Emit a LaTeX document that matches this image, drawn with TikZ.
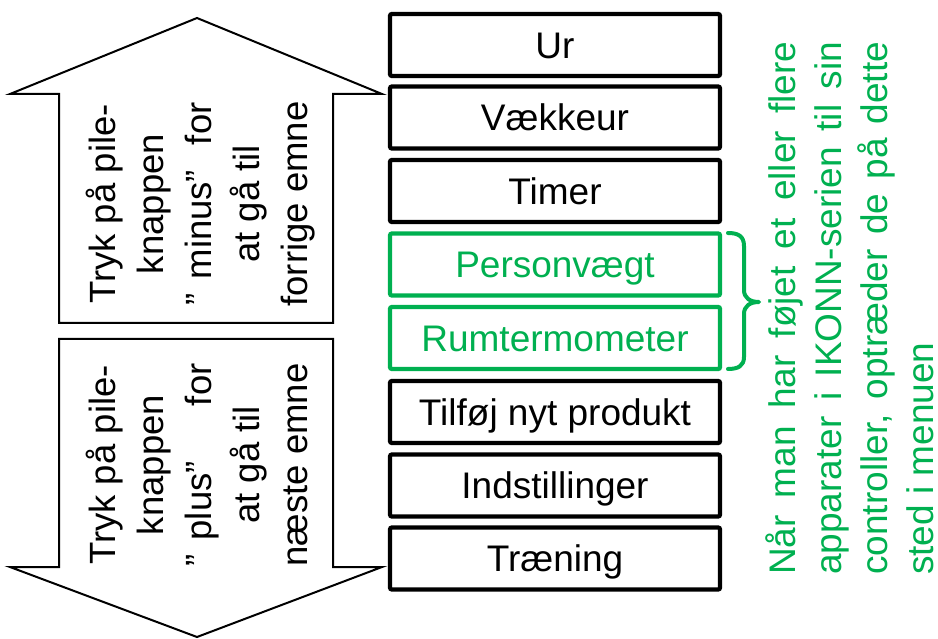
\documentclass[tikz,border=0pt]{standalone}
\usepackage{fontspec}
\setmainfont{Liberation Sans}
\definecolor{pgreen}{RGB}{0,176,80}
\begin{document}
\begin{tikzpicture}[x=1pt,y=-1pt,
  menubox/.style={draw=black, line width=4.3pt, rounded corners=2pt, minimum width=330pt, minimum height=62pt, inner sep=0pt, text height=26.5pt, text depth=0pt, font=\fontsize{37}{44}\selectfont, fill=white},
  greenbox/.style={menubox, draw=pgreen, text=pgreen},
  arrowshape/.style={draw=black, line width=2pt, fill=white, line join=miter},
  sidetext/.style={rotate=90, anchor=base, inner sep=0pt, font=\fontsize{36.5}{44}\selectfont},
  notetext/.style={rotate=90, anchor=base west, inner sep=0pt, text=pgreen, font=\fontsize{37}{44}\selectfont},
  bracestyle/.style={draw=pgreen, line width=4pt, line cap=round, line join=round}]
\useasboundingbox (0,0) rectangle (938,639);
% arrows
\draw[arrowshape] (197,18) -- (382,94) -- (333,94) -- (333,323) -- (59,323) -- (59,94) -- (10,94) -- cycle;
\draw[arrowshape] (59,339) -- (333,339) -- (333,567) -- (382,567) -- (197,637) -- (10,567) -- (59,567) -- cycle;
% up arrow text
\node[sidetext] (u1) at (115,204) {Tryk på pile-};
\node[sidetext] (u2) at (163,204) {knappen};
\node[sidetext] (u3) at (211,204) {\makebox[203pt]{”\hspace{14pt}minus”\hfill for}};
\node[sidetext] (u4) at (259,204) {at gå til};
\node[sidetext] (u5) at (307,204) {forrige emne};
% down arrow text
\node[sidetext] (d1) at (115,465) {Tryk på pile-};
\node[sidetext] (d2) at (163,465) {knappen};
\node[sidetext] (d3) at (211,465) {\makebox[203pt]{”\hspace{14pt}plus”\hfill for}};
\node[sidetext] (d4) at (259,465) {at gå til};
\node[sidetext] (d5) at (307,465) {næste emne};
% menu
\node[menubox] (ur) at (555,45) {Ur};
\node[menubox] (vaek) at (555,117.5) {Vækkeur};
\node[menubox] (timer) at (555,191) {Timer};
\node[greenbox] (pers) at (555,264.5) {Personvægt};
\node[greenbox] (rum) at (555,338) {Rumtermometer};
\node[menubox] (tilf) at (555,412) {Tilføj nyt produkt};
\node[menubox] (indst) at (555,485.5) {Indstillinger};
\node[menubox] (traen) at (555,558.5) {Træning};
% brace
\draw[bracestyle] (728,233) .. controls (738,233) and (744,236) .. (744,246) -- (744,290) .. controls (744,298) and (750,302) .. (759,302) .. controls (750,302) and (744,306) .. (744,314) -- (744,357) .. controls (744,366) and (738,369) .. (728,369);
% note
\node[notetext] (n1) at (795,575) {\makebox[533pt][s]{Når man har føjet et eller flere}};
\node[notetext] (n2) at (841,575) {\makebox[533pt][s]{apparater i IKONN-serien til sin}};
\node[notetext] (n3) at (887,575) {\makebox[533pt][s]{controller, optræder de på dette}};
\node[notetext] (n4) at (933,575) {sted i menuen};
\end{tikzpicture}
\end{document}
